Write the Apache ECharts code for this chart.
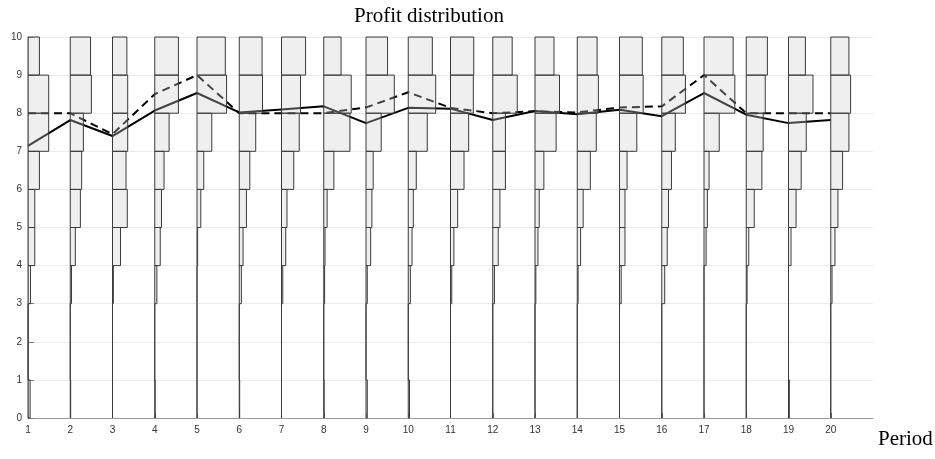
<!DOCTYPE html>
<html>
<head>
<meta charset="utf-8">
<script src="https://cdn.jsdelivr.net/npm/echarts@6/dist/echarts.min.js"></script>
<style>html,body{margin:0;padding:0;background:#fff}#c{width:935px;height:459px}</style>
</head>
<body>
<div id="c"></div>
<script>
// Periods on the x axis
const periods = [1,2,3,4,5,6,7,8,9,10,11,12,13,14,15,16,17,18,19,20];
// Profit bins (lower edges), each bin is one unit tall
const binStarts = [0,1,2,3,4,5,6,7,8,9];
// Relative frequency (horizontal width) per bin, for each period, bins 0-1 ... 9-10
const p1  = [0.05,0,0,0.06,0.16,0.16,0.27,0.49,0.49,0.27];
const p2  = [0.01,0,0,0.03,0.12,0.24,0.27,0.31,0.50,0.48];
const p3  = [0,0,0,0.02,0.19,0.35,0.32,0.36,0.36,0.34];
const p4  = [0.01,0,0,0.05,0.13,0.16,0.22,0.34,0.56,0.56];
const p5  = [0,0,0,0,0.015,0.09,0.16,0.35,0.70,0.67];
const p6  = [0.01,0,0,0.05,0.09,0.17,0.25,0.39,0.55,0.54];
const p7  = [0,0,0,0.03,0.10,0.13,0.29,0.42,0.45,0.57];
const p8  = [0.01,0,0,0.02,0.03,0.08,0.24,0.62,0.65,0.41];
const p9  = [0.03,0,0,0.03,0.11,0.14,0.17,0.36,0.67,0.51];
const p10 = [0.03,0,0,0.05,0.09,0.12,0.19,0.45,0.65,0.57];
const p11 = [0,0,0,0.03,0.08,0.17,0.32,0.43,0.54,0.55];
const p12 = [0,0,0,0.04,0.13,0.17,0.30,0.30,0.58,0.46];
const p13 = [0,0,0,0.02,0.07,0.10,0.21,0.50,0.58,0.45];
const p14 = [0,0,0,0.02,0.08,0.14,0.31,0.45,0.50,0.47];
const p15 = [0,0,0,0.04,0.13,0.13,0.18,0.41,0.56,0.54];
const p16 = [0,0,0,0.07,0.13,0.16,0.23,0.32,0.56,0.51];
const p17 = [0,0,0,0,0.05,0.08,0.12,0.36,0.73,0.69];
const p18 = [0,0,0,0.02,0.06,0.19,0.37,0.40,0.45,0.50];
const p19 = [0.02,0,0,0,0.06,0.18,0.30,0.42,0.58,0.40];
const p20 = [0,0,0,0.03,0.10,0.17,0.28,0.43,0.47,0.43];
const histograms = [p1,p2,p3,p4,p5,p6,p7,p8,p9,p10,p11,p12,p13,p14,p15,p16,p17,p18,p19,p20];
// Mean (solid) and median (dashed) profit per period
const meanProfit   = [7.14,7.82,7.40,8.07,8.53,8.02,8.10,8.18,7.74,8.14,8.12,7.82,8.06,7.97,8.09,7.92,8.53,7.96,7.74,7.82];
const medianProfit = [8,8,7.45,8.5,9,8,8,8,8.15,8.55,8.14,8.0,8.05,8.02,8.15,8.18,9,8,8,8];
// Axis ticks
const xTicks = periods;
const yTicks = [0,1,2,3,4,5,6,7,8,9,10];

const rects = [];
periods.forEach((p, i) => {
  binStarts.forEach((b, j) => rects.push([p, b, histograms[i][j]]));
});

const chart = echarts.init(document.getElementById('c'), null, {renderer: 'canvas'});
chart.setOption({
  animation: false,
  backgroundColor: '#fff',
  grid: {left: 28, right: 62, top: 37, bottom: 41, outerBoundsMode: 'none'},
  graphic: [
    {type: 'text', left: 354, top: 6, style: {text: 'Profit distribution', font: '21px "Liberation Serif"', fill: '#000'}},
    {type: 'text', left: 878, top: 429, style: {text: 'Period', font: '21px "Liberation Serif"', fill: '#000'}}
  ],
  xAxis: {
    type: 'value', min: 1, max: 21, interval: 1,
    axisLine: {show: true, lineStyle: {color: '#9a9a9a', width: 1}},
    axisTick: {show: true, inside: true, length: 5, customValues: xTicks, lineStyle: {color: '#777'}},
    axisLabel: {color: '#333', fontSize: 10, fontFamily: 'Liberation Sans', margin: 7, customValues: xTicks,
      formatter: v => xTicks.indexOf(v) >= 0 ? String(v) : ''},
    splitLine: {show: false}
  },
  yAxis: {
    type: 'value', min: 0, max: 10, interval: 1,
    axisLine: {show: true, lineStyle: {color: '#9a9a9a', width: 1}},
    axisTick: {show: true, inside: true, length: 6, lineStyle: {color: '#777'}},
    axisLabel: {color: '#333', fontSize: 10, fontFamily: 'Liberation Sans', margin: 6,
      formatter: v => yTicks.indexOf(v) >= 0 ? String(v) : ''},
    splitLine: {show: true, lineStyle: {color: '#ebebeb', width: 1}}
  },
  series: [
    {
      type: 'line', z: 1, symbol: 'none',
      data: periods.map((p, i) => [p, medianProfit[i]]),
      lineStyle: {color: '#000', width: 2, type: [8, 5]}
    },
    {
      type: 'line', z: 1, symbol: 'none',
      data: periods.map((p, i) => [p, meanProfit[i]]),
      lineStyle: {color: '#000', width: 2}
    },
    {
      type: 'custom', z: 3,
      encode: {x: 0, y: 1},
      data: rects,
      renderItem: function (params, api) {
        const p = api.value(0), lo = api.value(1), w = api.value(2);
        const a = api.coord([p, lo + 1]);
        const b = api.coord([p + w, lo]);
        return {
          type: 'rect',
          shape: {x: a[0], y: a[1], width: b[0] - a[0], height: b[1] - a[1]},
          style: {fill: 'rgba(205,205,205,0.33)', stroke: '#3a3a3a', lineWidth: 1}
        };
      }
    }
  ]
});
</script>
</body>
</html>
